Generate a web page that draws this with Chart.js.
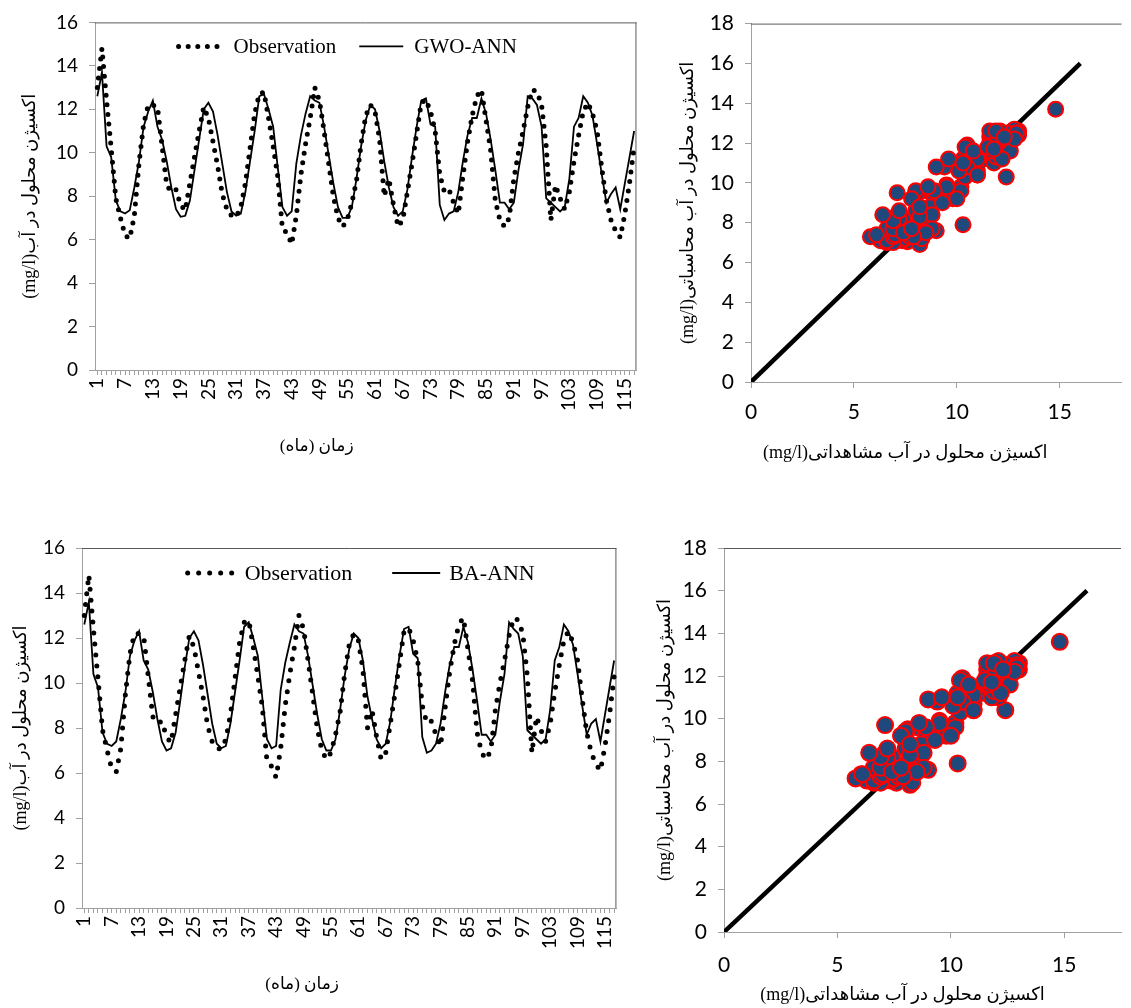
<!DOCTYPE html>
<html>
<head>
<meta charset="utf-8">
<script src="https://cdn.jsdelivr.net/npm/chart.js@4.4.1/dist/chart.umd.min.js"></script>
<style>
  body { margin: 0; background: #fff; }
  .box { position: absolute; }
</style>
</head>
<body>
<div class="box" style="left:0;top:0"><canvas id="gwo-line" width="660" height="470"></canvas></div>
<div class="box" style="left:660px;top:0"><canvas id="gwo-scatter" width="471" height="470"></canvas></div>
<div class="box" style="left:0;top:500px"><canvas id="ba-line" width="640" height="508"></canvas></div>
<div class="box" style="left:650px;top:500px"><canvas id="ba-scatter" width="481" height="508"></canvas></div>
<script>
// months 1..117 on the time axis
const months = Array.from({ length: 117 }, (_, i) => i + 1)

const observation = [
  13.0, 14.8, 12.4, 10.2, 7.9, 7.0, 6.2, 6.05, 7.1, 9.5,
  11.3, 12.2, 12.2, 12.1, 10.3, 8.5, 8.2, 8.3, 7.6, 7.35,
  8.6, 9.8, 11.0, 12.1, 11.6, 10.5, 9.4, 8.1, 7.4, 7.1,
  7.05, 7.5, 8.6, 10.2, 11.8, 12.7, 12.8, 11.6, 10.3, 8.9,
  6.5, 6.3, 5.8, 7.1, 9.0, 10.4, 11.6, 13.0, 12.4, 11.0,
  9.5, 8.0, 7.0, 6.6, 6.9, 7.7, 8.7, 10.4, 11.7, 12.2,
  11.9, 10.6, 8.0, 8.8, 7.6, 6.6, 6.9, 8.2, 9.5, 10.9,
  12.3, 12.45, 11.9, 11.0, 9.0, 8.2, 8.3, 7.7, 7.2, 8.9,
  10.5, 11.7, 12.6, 12.9, 11.5, 10.1, 7.8, 6.9, 6.6, 7.0,
  8.8, 10.0, 11.0, 12.1, 12.9, 12.8, 12.2, 10.3, 6.9, 8.5,
  7.9, 7.4, 8.2, 9.6, 10.8, 11.9, 12.3, 11.8, 11.0, 9.3,
  7.8, 6.9, 6.4, 6.1, 7.2, 8.6, 10.3
]

// GWO-ANN model output
const gwoAnn = [
  12.6, 13.7, 10.3, 9.8, 7.8, 7.3, 7.2, 7.35, 8.4, 9.6,
  11.2, 11.9, 12.4, 11.2, 10.6, 9.6, 8.4, 7.4, 7.05, 7.1,
  7.8, 9.2, 10.6, 12.0, 12.3, 11.9, 10.8, 9.5, 8.2, 7.3,
  7.1, 7.2, 8.2, 9.6, 11.0, 12.6, 12.7, 12.0, 11.2, 9.3,
  7.5, 7.1, 7.3, 9.5, 10.8, 11.8, 12.6, 12.4, 12.3, 11.2,
  9.9, 8.6, 7.5, 7.0, 7.0, 7.5, 8.8, 10.3, 11.5, 12.2,
  12.0, 11.0, 9.6, 8.4, 7.5, 7.1, 7.3, 8.3, 9.8, 11.2,
  12.4, 12.5, 11.3, 11.2, 7.6, 6.9, 7.2, 7.3, 8.2, 9.6,
  10.8, 11.6, 11.6, 12.5, 11.8, 10.6, 9.2, 7.7, 7.7, 7.4,
  7.7, 9.2, 10.4, 12.6, 12.5, 12.2, 11.2, 7.9, 7.7, 7.5,
  7.3, 7.5, 8.8, 11.2, 11.6, 12.6, 12.3, 11.7, 10.4, 9.0,
  7.7, 8.1, 8.4, 7.4, 8.6, 9.8, 11.0
]

// BA-ANN model output
const baAnn = [
  12.6, 13.6, 10.4, 9.8, 7.8, 7.3, 7.2, 7.4, 8.4, 9.6,
  11.2, 11.9, 12.3, 11.0, 10.6, 9.6, 8.4, 7.4, 7.0, 7.1,
  7.8, 9.2, 10.7, 12.0, 12.3, 11.9, 10.8, 9.5, 8.2, 7.3,
  7.1, 7.2, 8.2, 9.6, 11.0, 12.5, 12.7, 12.0, 11.2, 9.3,
  7.5, 7.1, 7.2, 9.7, 10.9, 11.8, 12.6, 12.3, 12.2, 11.2,
  9.9, 8.6, 7.5, 7.0, 7.0, 7.5, 8.8, 10.3, 11.5, 12.2,
  12.0, 11.0, 9.4, 8.4, 7.5, 7.1, 7.3, 8.3, 9.8, 11.2,
  12.4, 12.5, 11.3, 11.1, 7.6, 6.9, 7.0, 7.3, 8.2, 9.6,
  10.8, 11.6, 11.6, 12.5, 11.8, 10.6, 9.2, 7.7, 7.7, 7.4,
  7.7, 9.2, 10.4, 12.7, 12.4, 12.2, 11.2, 7.9, 7.7, 7.5,
  7.3, 7.5, 8.8, 11.0, 11.6, 12.6, 12.3, 11.7, 10.4, 9.0,
  7.7, 8.2, 8.4, 7.4, 8.6, 9.8, 11.0
]

// 1:1 reference line ends
const diagonalEnds = [0, 16]

const yTitle = '(mg/l)اکسیژن محلول در آب'
const timeTitle = 'زمان (ماه)'
const calcTitle = '(mg/l)اکسیژن محلول در آب محاسباتی'
const obsTitle = '(mg/l)اکسیژن محلول در آب مشاهداتی'

const tickFont = '"Liberation Sans Narrow", "Lato", sans-serif'
const titleFont = '"Liberation Serif", "DejaVu Sans", serif'
const axisGray = '#a0a0a0'

// dark top / right edge of the plot box
const frame = {
  id: 'frame',
  beforeDatasetsDraw(chart, args, o) {
    const { ctx, chartArea: a } = chart
    ctx.save()
    ctx.strokeStyle = '#5a5a5a'
    ctx.lineWidth = 1
    ctx.beginPath()
    ctx.moveTo(a.left, a.top + 0.5)
    ctx.lineTo(a.right, a.top + 0.5)
    if (o.right) {
      ctx.moveTo(a.right - 0.5, a.top)
      ctx.lineTo(a.right - 0.5, a.bottom)
    }
    ctx.stroke()
    ctx.restore()
  }
}

// legend drawn inside the plot box, like the original
const insideLegend = {
  id: 'insideLegend',
  afterDatasetsDraw(chart, args, o) {
    if (!o.show) return
    const { ctx, chartArea: a } = chart
    const sets = chart.data.datasets
    ctx.save()
    ctx.font = o.font
    const widths = sets.map(ds => o.sample + o.gap + ctx.measureText(ds.label).width)
    const total = widths.reduce((s, w) => s + w, 0) + o.spacing * (sets.length - 1)
    let x = (a.left + a.right) / 2 + o.shift - total / 2
    const y = a.top + o.top
    sets.forEach((ds, i) => {
      ctx.beginPath()
      ctx.setLineDash(ds.borderDash || [])
      ctx.lineCap = ds.borderCapStyle || 'butt'
      ctx.lineWidth = ds.borderWidth
      ctx.strokeStyle = ds.borderColor
      ctx.moveTo(x, y)
      ctx.lineTo(x + o.sample, y)
      ctx.stroke()
      ctx.setLineDash([])
      ctx.fillStyle = '#000'
      ctx.textAlign = 'left'
      ctx.textBaseline = 'middle'
      ctx.fillText(ds.label, x + o.sample + o.gap, y + 1)
      x += widths[i] + o.spacing
    })
    ctx.restore()
  }
}

// x axis caption, shifted a little left of centre as in the original
const xCaption = {
  id: 'xCaption',
  afterDraw(chart, args, o) {
    const { ctx, chartArea: a } = chart
    ctx.save()
    ctx.font = o.font
    ctx.fillStyle = '#000'
    ctx.textAlign = 'center'
    ctx.textBaseline = 'middle'
    ctx.fillText(o.text, (a.left + a.right) / 2 + o.dx, chart.height - o.fromBottom)
    ctx.restore()
  }
}

function lineChart(id, modelName, model, g) {
  new Chart(document.getElementById(id), {
    type: 'line',
    data: {
      labels: months,
      datasets: [{
        label: 'Observation',
        data: observation,
        borderColor: '#000',
        borderWidth: 5,
        borderDash: [0, g.dot],
        borderCapStyle: 'round',
        pointRadius: 0,
        tension: 0
      }, {
        label: modelName,
        data: model,
        borderColor: '#000',
        borderWidth: 1.8,
        pointRadius: 0,
        tension: 0
      }]
    },
    options: {
      responsive: false,
      animation: false,
      layout: { padding: { top: g.top, right: g.right, left: 0, bottom: 0 } },
      plugins: {
        legend: { display: false },
        tooltip: { enabled: false },
        frame: { right: true },
        insideLegend: {
          show: true, font: g.legendSize + 'px "Liberation Serif", serif',
          sample: g.sample, gap: g.gap, spacing: g.spacing, shift: g.shift, top: g.legendTop
        },
        xCaption: { text: timeTitle, font: '17px ' + titleFont, dx: g.capDx, fromBottom: g.capY }
      },
      scales: {
        x: {
          offset: true,
          afterFit: s => { s.height = g.xh },
          border: { color: axisGray },
          grid: { drawOnChartArea: false, color: axisGray, tickLength: 5 },
          ticks: {
            autoSkip: false, minRotation: 90, maxRotation: 90, padding: 3,
            color: '#000', font: { family: tickFont, size: 19 },
            callback: (v, i) => (i % 6 === 0 ? months[i] : '')
          }
        },
        y: {
          min: 0, max: 16,
          afterFit: s => { s.width = g.yw },
          border: { color: axisGray },
          grid: { drawOnChartArea: false, color: axisGray, tickLength: 6 },
          ticks: { stepSize: 2, padding: 11, color: '#000', font: { family: tickFont, size: 19 } },
          title: { display: true, text: yTitle, color: '#000', font: { family: titleFont, size: 18 }, padding: { top: g.yTitlePad } }
        }
      }
    },
    plugins: [frame, insideLegend, xCaption]
  })
}

function scatterChart(id, model, g) {
  new Chart(document.getElementById(id), {
    type: 'scatter',
    data: {
      datasets: [{
        label: 'points',
        data: observation.map((v, i) => ({ x: v, y: model[i] })),
        pointRadius: g.r,
        pointBackgroundColor: '#1f497d',
        pointBorderColor: '#ff0000',
        pointBorderWidth: 2
      }, {
        label: '1:1',
        data: diagonalEnds.map(v => ({ x: v, y: v })),
        showLine: true,
        borderColor: '#000',
        borderWidth: 4.5,
        pointRadius: 0
      }]
    },
    options: {
      responsive: false,
      animation: false,
      layout: { padding: { top: g.top, right: 0, left: 0, bottom: 0 } },
      plugins: {
        legend: { display: false },
        tooltip: { enabled: false },
        frame: { right: false },
        insideLegend: { show: false },
        xCaption: { text: obsTitle, font: '18px ' + titleFont, dx: g.capDx, fromBottom: g.capY }
      },
      scales: {
        x: {
          type: 'linear', min: 0, max: g.xmax,
          afterFit: s => { s.height = g.xh },
          border: { color: axisGray },
          grid: { drawOnChartArea: false, color: axisGray, tickLength: 6 },
          ticks: {
            stepSize: 5, includeBounds: false, autoSkip: false, maxRotation: 0,
            padding: g.xpad, color: '#000', font: { family: tickFont, size: 21 }
          }
        },
        y: {
          min: 0, max: 18,
          afterFit: s => { s.width = g.yw },
          border: { color: axisGray },
          grid: { drawOnChartArea: false, color: axisGray, tickLength: 6 },
          ticks: { stepSize: 2, padding: 11, color: '#000', font: { family: tickFont, size: 21 } },
          title: { display: true, text: calcTitle, color: '#000', font: { family: titleFont, size: 18 }, padding: { top: g.yTitlePad } }
        }
      }
    },
    plugins: [frame, insideLegend, xCaption]
  })
}

lineChart('gwo-line', 'GWO-ANN', gwoAnn, {
  top: 22, right: 13, xh: 100, yw: 95, yTitlePad: 19, capDx: -49, capY: 23,
  dot: 9.6, sample: 44, gap: 11, spacing: 23, shift: -18, legendTop: 24, legendSize: 21
})
scatterChart('gwo-scatter', gwoAnn, {
  top: 22, xh: 88, yw: 91, yTitlePad: 17, capDx: -31, capY: 17, xmax: 18, xpad: 12, r: 7.5
})
lineChart('ba-line', 'BA-ANN', baAnn, {
  top: 48, right: 17, xh: 100, yw: 82, yTitlePad: 10, capDx: -47, capY: 23,
  dot: 11, sample: 48, gap: 9, spacing: 40, shift: 12, legendTop: 25, legendSize: 22
})
scatterChart('ba-scatter', baAnn, {
  top: 48, xh: 76, yw: 74, yTitlePad: 4, capDx: -20, capY: 13, xmax: 17.5, xpad: 15, r: 8
})
</script>
</body>
</html>
